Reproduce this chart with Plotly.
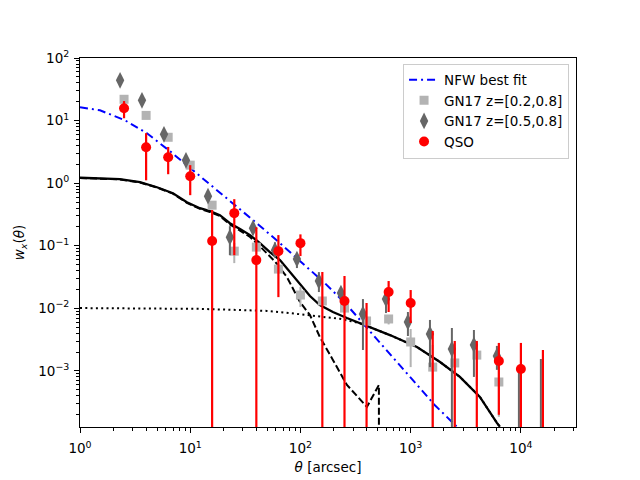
import math
import plotly.graph_objects as go

NEG = 1e-6  # lower error end below zero (off the log axis)

# ---------------- data ----------------
theta_qso = [2.51, 3.98, 6.31, 10.0, 15.8, 25.1, 39.8, 63.1, 100, 158,
             251, 398, 631, 1000, 1585, 2512, 3981, 6310, 10000, 15849]
qso_w = [15.7, 3.75, 2.59, 1.29, 0.119, 0.332, 0.059, 0.082, 0.110, None,
         0.0131, None, 0.0182, 0.0122, None, None, None, 0.00144, 0.00107, None]
qso_lo = [10.9, 1.11, 1.39, 0.643, NEG, 0.0706, NEG, 0.0151, 0.0684, NEG,
          NEG, NEG, 0.00873, 0.00583, NEG, NEG, NEG, 0.000199, NEG, NEG]
qso_hi = [20.5, 6.3, 3.79, 1.94, 0.371, 0.555, 0.198, 0.148, 0.152, 0.0379,
          0.0328, 0.0122, 0.0273, 0.0196, 0.00435, 0.00301, 0.00301, 0.0028, 0.0028, 0.00216]

theta_gn1 = [2.51, 3.98, 6.31, 10.0, 15.8, 25.1, 39.8, 63.1, 100, 158,
             251, 398, 631, 1000, 1585, 2512, 3981, 6310, 10000, 15849]
gn1_w = [21.9, 12.1, 5.41, 1.94, 0.445, 0.082, 0.0951, 0.0424, 0.0163, 0.0131,
         0.0101, 0.00628, 0.00676, 0.0029, 0.00115, 0.00134, 0.00179, 0.000665, None, None]
gn1_lo = [20.5, 11.3, 5.0, 1.8, 0.41, 0.0528, 0.085, 0.036, 0.0105, 0.0115,
          0.0088, 0.0053, 0.00553, 0.00115, NEG, NEG, 0.000577, 0.000185, NEG, NEG]
gn1_hi = [23.3, 12.9, 5.8, 2.1, 0.48, 0.111, 0.105, 0.049, 0.022, 0.0147,
          0.0114, 0.0073, 0.00773, 0.00468, 0.0026, 0.0028, 0.0029, 0.00115, 0.000716, 0.00074]

theta_gn2 = [2.31, 3.65, 5.78, 9.15, 14.5, 22.9, 37.1, 58.7, 92.9, 147,
             233, 369, 597, 944, 1496, 2366, 3749, 6058, 9594, 15180]
gn2_w = [44.0, 21.1, 6.04, 2.32, 0.619, 0.137, 0.191, 0.0851, 0.0612, 0.0273,
         0.01755, 0.00811, 0.01406, 0.00605, 0.0039, 0.00224, 0.0026, 0.00173, None, None]
gn2_lo = [41.0, 19.5, 5.6, 2.15, 0.57, 0.0706, 0.17, 0.0659, 0.044, 0.0182,
          0.0122, 0.00216, 0.00841, 0.00361, 0.00115, NEG, 0.000802, 0.00104, NEG, NEG]
gn2_hi = [47.0, 22.7, 6.5, 2.5, 0.67, 0.2056, 0.21, 0.1135, 0.0706, 0.0379,
          0.0219, 0.01406, 0.0182, 0.00873, 0.00652, 0.00485, 0.00451, 0.00251, 0.00124, 0.00155]

# model curves
nfw_theta = [1, 1.518, 2.56, 4.05, 6.55, 10.35, 16.4, 26.0, 41.1, 65.2, 103,
             166, 264, 417, 660, 1044, 1650, 2628]
nfw_w = [16.3, 14.6, 10.1, 6.27, 3.24, 1.67, 0.832, 0.429, 0.221, 0.110, 0.0528,
         0.0254, 0.0113, 0.00451, 0.0018, 7.18e-4, 2.86e-4, 1.28e-4]

tot_theta = [1, 2.30, 3.50, 4.99, 6.97, 9.33, 12.25, 15.1, 18.6, 22.9, 28.3, 34.9,
             42.9, 52.8, 65.2, 80.3, 99, 122, 150, 197, 264, 401, 648, 1140, 1846,
             2797, 4246, 6058, 6451]
tot_w = [1.22, 1.157, 1.035, 0.861, 0.690, 0.495, 0.398, 0.357, 0.308, 0.229, 0.185,
         0.148, 0.110, 0.0791, 0.059, 0.0379, 0.0236, 0.0157, 0.0113, 0.00873, 0.0070,
         0.00521, 0.00374, 0.00241, 0.00139, 0.000802, 0.000385, 0.000148, 0.000128]

one_theta = [1, 2.30, 3.50, 4.99, 6.97, 9.33, 12.25, 15.1, 18.6, 22.9, 28.3, 34.9,
             42.9, 58.7, 75.4, 99, 122, 150, 197, 264, 401, 515, 516]
one_w = [1.21, 1.147, 1.025, 0.851, 0.680, 0.485, 0.388, 0.347, 0.298, 0.219, 0.175,
         0.138, 0.098, 0.056, 0.0316, 0.0126, 0.00782, 0.00348, 0.0015, 0.000597,
         0.000266, 0.000597, 1e-7]

two_theta = [1, 4.31, 12.25, 28.3, 49.6, 80.3, 122, 228, 344, 401, 648, 1140, 1846,
             2797, 4246, 6058, 6451]
two_w = [0.0101, 0.0100, 0.0098, 0.0094, 0.0091, 0.0084, 0.0078, 0.0068, 0.0058,
         0.0052, 0.00374, 0.00241, 0.00139, 0.000802, 0.000385, 0.000148, 0.000128]

x_major = [1, 10, 100, 1000, 10000]
x_major_text = ["10<sup>0</sup>", "10<sup>1</sup>", "10<sup>2</sup>", "10<sup>3</sup>", "10<sup>4</sup>"]
y_major = [1e-3, 1e-2, 1e-1, 1, 10, 100]
y_major_text = ["10<sup>−3</sup>", "10<sup>−2</sup>", "10<sup>−1</sup>",
                "10<sup>0</sup>", "10<sup>1</sup>", "10<sup>2</sup>"]

# ---------------- helpers ----------------
def err_segments(xs, lo, hi):
    ex, ey = [], []
    for x, l, h in zip(xs, lo, hi):
        ex += [x, x, None]
        ey += [l, h, None]
    return ex, ey

def minor_ticks(d0, d1):
    out = []
    for d in range(d0, d1):
        for m in range(2, 10):
            out.append(m * 10 ** d)
    return out

LIGHT = "#b3b3b3"
DARK = "#666666"
RED = "#ff0000"
FS = 13.5

fig = go.Figure()

# model curves
fig.add_trace(go.Scatter(x=two_theta, y=two_w, mode="lines", showlegend=False,
                         line=dict(color="black", width=2, dash="2px,3.3px")))
fig.add_trace(go.Scatter(x=one_theta, y=one_w, mode="lines", showlegend=False,
                         line=dict(color="black", width=2, dash="7px,3px")))
fig.add_trace(go.Scatter(x=tot_theta, y=tot_w, mode="lines", showlegend=False,
                         line=dict(color="black", width=2.3)))
fig.add_trace(go.Scatter(x=nfw_theta, y=nfw_w, mode="lines", name="NFW best fit",
                         legendgroup="a",
                         line=dict(color="blue", width=2, dash="8px,4px,2px,4px")))

# GN17 z=[0.2,0.8]
ex, ey = err_segments(theta_gn1, gn1_lo, gn1_hi)
fig.add_trace(go.Scatter(x=ex, y=ey, mode="lines", showlegend=False,
                         line=dict(color=LIGHT, width=2)))
fig.add_trace(go.Scatter(x=theta_gn1, y=gn1_w, mode="markers", name="GN17 z=[0.2,0.8]",
                         legendgroup="b",
                         marker=dict(symbol="square", size=9, color=LIGHT, line=dict(width=0))))

# GN17 z=[0.5,0.8]
ex, ey = err_segments(theta_gn2, gn2_lo, gn2_hi)
fig.add_trace(go.Scatter(x=ex, y=ey, mode="lines", showlegend=False,
                         line=dict(color=DARK, width=2)))
fig.add_trace(go.Scatter(x=theta_gn2, y=gn2_w, mode="markers", name="GN17 z=[0.5,0.8]",
                         legendgroup="c",
                         marker=dict(symbol="diamond-tall", size=12, color=DARK, line=dict(width=0))))

# QSO
ex, ey = err_segments(theta_qso, qso_lo, qso_hi)
fig.add_trace(go.Scatter(x=ex, y=ey, mode="lines", showlegend=False,
                         line=dict(color=RED, width=2.2)))
fig.add_trace(go.Scatter(x=theta_qso, y=qso_w, mode="markers", name="QSO",
                         legendgroup="d",
                         marker=dict(symbol="circle", size=10, color=RED, line=dict(width=0))))

FONT = "DejaVu Sans"
axis_common = dict(
    type="log", showgrid=False, zeroline=False,
    showline=True, linecolor="black", linewidth=1, mirror=True,
    ticks="outside", ticklen=5, tickwidth=1, tickcolor="black",
    tickfont=dict(family=FONT, size=FS, color="black"),
)

fig.update_xaxes(
    **axis_common,
    range=[0, 4.5],
    tickmode="array", tickvals=x_major, ticktext=x_major_text,
    ticklabelstandoff=4,
    minor=dict(tickmode="array", tickvals=minor_ticks(0, 5), ticks="outside",
               ticklen=3, tickwidth=0.8, tickcolor="black", showgrid=False),
    title=dict(text="<i>θ</i> [arcsec]", font=dict(family=FONT, size=FS, color="black"),
               standoff=7),
)
fig.update_yaxes(
    **axis_common,
    range=[math.log10(1.27e-4), 2],
    tickmode="array", tickvals=y_major, ticktext=y_major_text,
    ticklabelstandoff=2,
    minor=dict(tickmode="array", tickvals=minor_ticks(-4, 2), ticks="outside",
               ticklen=3, tickwidth=0.8, tickcolor="black", showgrid=False),
    title=dict(text="<i>w</i><sub><i>x</i></sub>(<i>θ</i>)",
               font=dict(family=FONT, size=FS, color="black"), standoff=10),
)

fig.update_layout(
    width=640, height=480,
    margin=dict(l=80, r=64, t=58, b=53, autoexpand=False),
    paper_bgcolor="white", plot_bgcolor="white",
    font=dict(family=FONT, size=FS, color="black"),
    legend=dict(x=0.986, y=0.985, xanchor="right", yanchor="top",
                bgcolor="rgba(255,255,255,0.8)", bordercolor="#cccccc", borderwidth=1,
                font=dict(family=FONT, size=FS, color="black"),
                tracegroupgap=0),
)

fig.write_html("out.html", config={"displayModeBar": False},
               post_script="document.body.style.margin='0';")
